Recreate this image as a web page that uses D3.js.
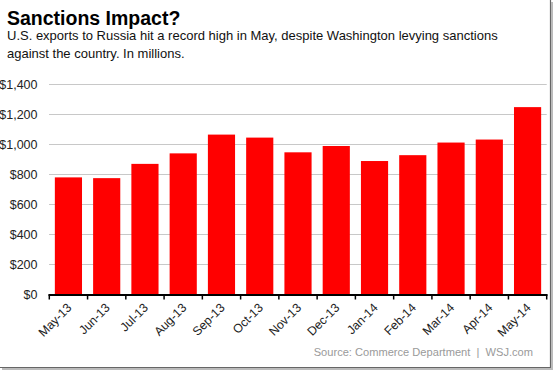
<!DOCTYPE html>
<html><head><meta charset="utf-8">
<script src="https://cdn.jsdelivr.net/npm/d3@7"></script>
<style>body{margin:0;background:#fff;}svg{display:block;font-family:"Liberation Sans",Arial,sans-serif;}</style>
</head><body>
<svg id="c" width="554" height="371"></svg>
<script>
const months = ["May-13","Jun-13","Jul-13","Aug-13","Sep-13","Oct-13","Nov-13","Dec-13","Jan-14","Feb-14","Mar-14","Apr-14","May-14"];
const exportsM = [780, 775, 870, 940, 1065, 1045, 947, 989, 889, 928, 1012, 1032, 1248];
const yTicks = [0, 200, 400, 600, 800, 1000, 1200, 1400];
const title = "Sanctions Impact?";
const subtitle = ["U.S. exports to Russia hit a record high in May, despite Washington levying sanctions", "against the country. In millions."];
const source = "Source: Commerce Department  |  WSJ.com";

const svg = d3.select("#c");
const x = d3.scaleBand().domain(months).range([49.3, 546.7]).paddingInner(0.29).paddingOuter(0.145);
const y = d3.scaleLinear().domain([0, 1400]).range([294.5, 84.3]);

// frame shadow
svg.append("line").attr("x1",550.5).attr("x2",550.5).attr("y1",0).attr("y2",367.5).attr("stroke","#666").attr("stroke-width",1.2);
svg.append("line").attr("x1",0).attr("x2",551).attr("y1",367.5).attr("y2",367.5).attr("stroke","#666").attr("stroke-width",1.2);
svg.append("line").attr("x1",552).attr("x2",552).attr("y1",2).attr("y2",369).attr("stroke","#bbb").attr("stroke-width",2);
svg.append("line").attr("x1",2).attr("x2",553).attr("y1",369).attr("y2",369).attr("stroke","#bbb").attr("stroke-width",2);

svg.append("text").attr("x",7).attr("y",25).attr("font-size",19.5).attr("font-weight","bold").attr("fill","#000").text(title);
subtitle.forEach((s,i)=>svg.append("text").attr("x",7).attr("y",40+i*17.5).attr("font-size",13).attr("fill","#111").text(s));

// gridlines
svg.append("g").selectAll("line").data(yTicks.filter(d=>d>0)).join("line")
  .attr("x1",49).attr("x2",546.7).attr("y1",d=>Math.round(y(d))+0.5).attr("y2",d=>Math.round(y(d))+0.5)
  .attr("stroke","#c8c8c8").attr("stroke-width",1.2);

// y labels
svg.append("g").selectAll("text").data(yTicks).join("text")
  .attr("x",37.5).attr("y",d=>y(d)+4.5).attr("text-anchor","end").attr("font-size",12.5).attr("fill","#222")
  .text(d=>"$"+d3.format(",")(d));

// bars
svg.append("g").selectAll("rect").data(exportsM).join("rect")
  .attr("x",(d,i)=>x(months[i])).attr("width",x.bandwidth())
  .attr("y",d=>y(d)).attr("height",d=>y(0)-y(d)).attr("fill","#ff0000");

// x axis
const step = x.step();
const gx = svg.append("g").attr("transform",`translate(0,${y(0)})`);
gx.append("line").attr("x1",48.5).attr("x2",547.5).attr("y1",0.5).attr("y2",0.5).attr("stroke","#000").attr("stroke-width",2);
gx.selectAll("line.t").data(d3.range(months.length+1)).join("line").attr("class","t")
  .attr("x1",i=>49.3+i*step).attr("x2",i=>49.3+i*step).attr("y1",0).attr("y2",5).attr("stroke","#000").attr("stroke-width",1.5);
gx.selectAll("text").data(months).join("text")
  .attr("text-anchor","end").attr("font-size",12.3).attr("fill","#222")
  .attr("transform",d=>`translate(${x(d)+x.bandwidth()/2+4},${14}) rotate(-45)`)
  .text(d=>d);

svg.append("text").attr("x",533).attr("y",355.5).attr("text-anchor","end").attr("font-size",11.1).attr("fill","#9a9a9a")
  .style("white-space","pre").attr("xml:space","preserve").text(source);
</script>
</body></html>
